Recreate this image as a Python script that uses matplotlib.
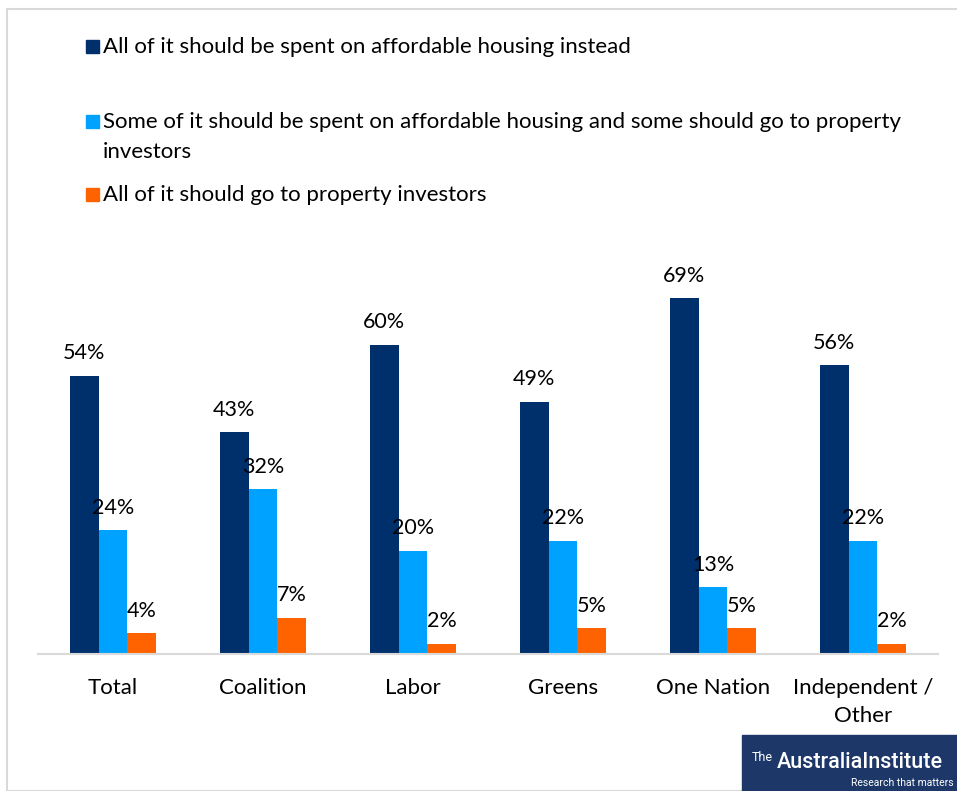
import matplotlib.pyplot as plt
import numpy as np
from matplotlib.patches import Rectangle

plt.rcParams['font.family'] = ['Lato', 'DejaVu Sans']

# data
groups = ["Total", "Coalition", "Labor", "Greens", "One Nation", "Independent /\nOther"]
all_housing = [54, 43, 60, 49, 69, 56]
some_each = [24, 32, 20, 22, 13, 22]
all_investors = [4, 7, 2, 5, 5, 2]

series_names = [
    "All of it should be spent on affordable housing instead",
    "Some of it should be spent on affordable housing and some should go to property\ninvestors",
    "All of it should go to property investors",
]
colors = ["#00306B", "#00A2FF", "#FF6300"]

W, H = 957, 791
fig = plt.figure(figsize=(W / 100, H / 100), dpi=100)

# light grey frame around the chart area
fig.patches.append(Rectangle((7.5 / W, 0), 1, 1 - 8.5 / H, transform=fig.transFigure,
                             fill=False, edgecolor="#D9D9D9", linewidth=1.5))

ax = fig.add_axes([38 / W, (H - 654) / H, 900 / W, 404 / H])
x = np.arange(len(groups))
bw = 0.193
values = [all_housing, some_each, all_investors]
for k, (vals, col) in enumerate(zip(values, colors)):
    bars = ax.bar(x + (k - 1) * bw, vals, bw, color=col, zorder=2)
    ax.bar_label(bars, labels=[f"{v}%" for v in vals], padding=9,
                 fontsize=15.5, color="black")

ax.set_xlim(-0.5, len(groups) - 0.5)
ax.set_ylim(0, 78.4)
ax.set_yticks([])
ax.set_xticks(x)
ax.set_xticklabels(groups, fontsize=16, linespacing=1.55)
ax.tick_params(axis="x", length=0, pad=17)
for s in ["top", "left", "right"]:
    ax.spines[s].set_visible(False)
ax.spines["bottom"].set_color("#D9D9D9")
ax.spines["bottom"].set_linewidth(1.5)

# legend drawn by hand to keep Excel's uneven spacing
legend_y = [46, 121, 194]
for name, col, yy in zip(series_names, colors, legend_y):
    fig.patches.append(Rectangle((86 / W, 1 - (yy + 6.5) / H), 12.5 / W, 12.5 / H,
                                 transform=fig.transFigure, color=col))
    fig.text(103 / W, 1 - (yy - 9) / H, name, fontsize=16, va="top", ha="left",
             linespacing=1.6)

# logo
fig.patches.append(Rectangle((742 / W, 0), 1, 56 / H, transform=fig.transFigure,
                             color="#1C3768"))
fig.text(752 / W, 1 - 761 / H, "The", color="white", fontsize=9, va="baseline",
         family="Roboto")
fig.text(777 / W, 1 - 768 / H, "AustraliaInstitute", color="white", fontsize=15.5,
         va="baseline", family="Roboto", fontweight="medium")
fig.text(954 / W, 1 - 786 / H, "Research that matters", color="white", fontsize=7.5,
         va="baseline", ha="right", family="Roboto")

fig.savefig("out.png", dpi=100)
